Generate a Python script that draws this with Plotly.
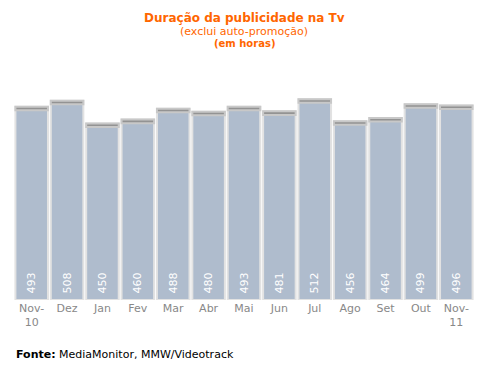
import plotly.graph_objects as go

months = ["Nov-<br>10", "Dez", "Jan", "Fev", "Mar", "Abr", "Mai", "Jun", "Jul", "Ago", "Set", "Out", "Nov-<br>11"]
hours = [493, 508, 450, 460, 488, 480, 493, 481, 512, 456, 464, 499, 496]
cap = 9

fig = go.Figure()
fig.add_trace(go.Bar(
    x=months, y=hours,
    marker=dict(color="#AFBCCD", line=dict(color="#E2E2E2", width=2)),
    text=[" " + str(v) for v in hours], textposition="inside", insidetextanchor="start",
    textangle=-90, textfont=dict(color="white", size=11, family="DejaVu Sans"),
    hoverinfo="skip",
))
fig.add_trace(go.Bar(
    x=months, y=[cap] * len(hours), base=[v - cap for v in hours],
    marker=dict(color="#939393", line=dict(color="#C8C8C8", width=2)),
    hoverinfo="skip",
))
fig.update_layout(
    width=493, height=371, barmode="overlay", bargap=0.08, showlegend=False,
    plot_bgcolor="white", paper_bgcolor="white",
    margin=dict(l=14, r=19, t=60, b=71),
    xaxis=dict(showline=False, showgrid=False, ticks="", tickfont=dict(color="#888888", size=11, family="DejaVu Sans")),
    yaxis=dict(range=[0, 612], visible=False),
    font=dict(family="DejaVu Sans"),
)
fig.add_annotation(text="<b>Duração da publicidade na Tv</b>", x=0.5, y=1.175, xref="paper", yref="paper",
                   yanchor="middle", showarrow=False, font=dict(color="#FF6600", size=12))
fig.add_annotation(text="(exclui auto-promoção)", x=0.5, y=1.117, xref="paper", yref="paper",
                   yanchor="middle", showarrow=False, font=dict(color="#FF6600", size=11))
fig.add_annotation(text="<b>(em horas)</b>", x=0.5, y=1.067, xref="paper", yref="paper",
                   yanchor="middle", showarrow=False, font=dict(color="#FF6600", size=10))
fig.add_annotation(text="<b>Fonte:</b> MediaMonitor, MMW/Videotrack", x=0.0, xref="paper", xanchor="left",
                   yref="paper", y=-0.229, yanchor="middle", showarrow=False, font=dict(color="black", size=11))
fig.write_html("out.html", config={"displayModeBar": False}, post_script="document.body.style.margin='0';")
